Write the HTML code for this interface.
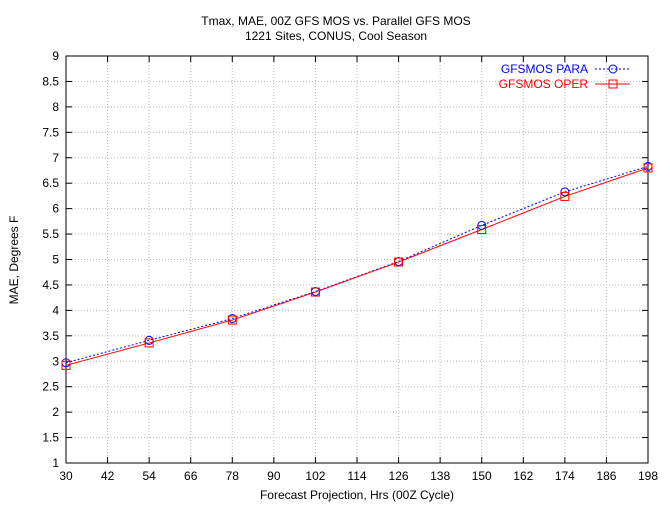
<!DOCTYPE html>
<html><head><meta charset="utf-8"><style>
body{margin:0;background:#fff;font-family:"Liberation Sans",sans-serif}
svg text{font-family:"Liberation Sans",sans-serif;font-size:12px}
</style></head><body>
<svg id="c" width="670" height="505" xmlns="http://www.w3.org/2000/svg">
<text x="336" y="25" text-anchor="middle">Tmax, MAE, 00Z GFS MOS vs. Parallel GFS MOS</text>
<text x="336" y="40" text-anchor="middle">1221 Sites, CONUS, Cool Season</text>
<text x="357" y="499" text-anchor="middle">Forecast Projection, Hrs (00Z Cycle)</text>
<text transform="translate(18,260) rotate(-90)" text-anchor="middle">MAE, Degrees F</text>
<g id="grid"></g><g id="axes"></g><g id="series"></g>
<g>
<text x="588" y="73" text-anchor="end" fill="#0000ff">GFSMOS PARA</text>
<line x1="595" y1="69" x2="630" y2="69" stroke="#0000ff" stroke-dasharray="2,2"/>
<circle cx="613" cy="69" r="4" fill="none" stroke="#0000ff"/>
<text x="588" y="88" text-anchor="end" fill="#ff0000">GFSMOS OPER</text>
<line x1="595" y1="84" x2="630" y2="84" stroke="#ff0000"/>
<rect x="609" y="80" width="8" height="8" fill="none" stroke="#ff0000"/>
</g>
</svg>
<script>
const hours=[30,54,78,102,126,150,174,198];
const para=[2.97,3.41,3.84,4.37,4.96,5.67,6.33,6.83];
const oper=[2.92,3.36,3.81,4.36,4.95,5.59,6.24,6.80];
const xTicks=[30,42,54,66,78,90,102,114,126,138,150,162,174,186,198];
const yTicks=[1,1.5,2,2.5,3,3.5,4,4.5,5,5.5,6,6.5,7,7.5,8,8.5,9];
const L=66,R=648,T=56,B=463;
const X=v=>L+(v-30)/(198-30)*(R-L);
const Y=v=>B-(v-1)/(9-1)*(B-T);
const NS='http://www.w3.org/2000/svg';
function mk(tag,attrs,parent,txt){const e=document.createElementNS(NS,tag);for(const k in attrs)e.setAttribute(k,attrs[k]);if(txt!==undefined)e.textContent=txt;document.getElementById(parent).appendChild(e);return e;}
xTicks.forEach(t=>{const x=X(t);
 const g=mk('line',{x1:x,y1:T,x2:x,y2:B,stroke:'#bbb','stroke-dasharray':'1,2'},'grid');
 
 
 const tk=mk('line',{x1:x,y1:B,x2:x,y2:B-6,stroke:'#000'},'axes');
 
 
 const tk2=mk('line',{x1:x,y1:T,x2:x,y2:T+6,stroke:'#000'},'axes');
 
 
 const lb=mk('text',{x:x,y:B+17,'text-anchor':'middle'},'axes',t);
 
 
});
yTicks.forEach(t=>{const y=Y(t);
 const g=mk('line',{x1:L,y1:y,x2:R,y2:y,stroke:'#bbb','stroke-dasharray':'1,2'},'grid');
 
 
 const tk=mk('line',{x1:L,y1:y,x2:L+6,y2:y,stroke:'#000'},'axes');
 
 
 const tk2=mk('line',{x1:R,y1:y,x2:R-6,y2:y,stroke:'#000'},'axes');
 
 
 const lb=mk('text',{x:L-7,y:y+4,'text-anchor':'end'},'axes',t);
 
 
});
const fr=mk('rect',{x:L,y:T,width:R-L,height:B-T,fill:'none',stroke:'#000'},'axes');


const pl=mk('polyline',{points:hours.map((h,i)=>X(h)+','+Y(para[i])).join(' '),fill:'none',stroke:'#0000ff','stroke-dasharray':'2,2'},'series');


const ol=mk('polyline',{points:hours.map((h,i)=>X(h)+','+Y(oper[i])).join(' '),fill:'none',stroke:'#ff0000'},'series');


hours.forEach((h,i)=>{
 const c=mk('circle',{cx:X(h),cy:Y(para[i]),r:4,fill:'none',stroke:'#0000ff'},'series');
 
 
 const r=mk('rect',{x:X(h)-4,y:Y(oper[i])-4,width:8,height:8,fill:'none',stroke:'#ff0000'},'series');
 
 
});
</script>
</body></html>
